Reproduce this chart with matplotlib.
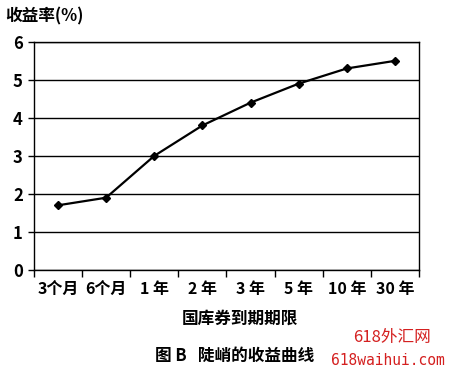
import matplotlib
matplotlib.use('Agg')
import matplotlib.pyplot as plt
import numpy as np

plt.rcParams['font.family'] = ['Noto Sans CJK SC', 'DejaVu Sans']

# 数据
categories = ['3个月', '6个月', '1 年', '2 年', '3 年', '5 年', '10 年', '30 年']
yields = [1.7, 1.9, 3.0, 3.8, 4.4, 4.9, 5.3, 5.5]
y_ticks = [0, 1, 2, 3, 4, 5, 6]

fig = plt.figure(figsize=(4.52, 3.77), dpi=100)
ax = fig.add_axes([0.075, 0.284, 0.852, 0.605])

x = np.arange(len(categories))
ax.plot(x, yields, color='black', linewidth=1.6, marker='D', markersize=4.5, zorder=3)

ax.set_xlim(-0.5, len(categories) - 0.5)
ax.set_ylim(0, 6)
ax.set_yticks(y_ticks)
ax.set_yticklabels([str(v) for v in y_ticks], fontsize=12, fontweight='bold')
ax.yaxis.grid(True, color='black', linewidth=1.0)
ax.set_axisbelow(True)

# x轴刻度在类别之间
ax.set_xticks(x)
ax.set_xticklabels(categories, fontsize=11.5, fontweight='bold')
ax.set_xticks(np.arange(len(categories) + 1) - 0.5, minor=True)
ax.tick_params(axis='x', which='major', length=0, pad=8)
ax.tick_params(axis='x', which='minor', length=5, width=1, direction='out', color='black')
ax.tick_params(axis='y', length=4, width=1, direction='out', pad=4)

for s in ['left', 'right', 'bottom', 'top']:
    ax.spines[s].set_color('black')
    ax.spines[s].set_linewidth(1.0)

fig.text(0.012, 0.957, '收益率(%)', fontsize=12, fontweight='bold', ha='left', va='center')
fig.text(0.53, 0.155, '国库券到期期限', fontsize=12, fontweight='bold', ha='center', va='center')
fig.text(0.52, 0.055, '图 B   陡峭的收益曲线', fontsize=12, fontweight='bold', ha='center', va='center')
fig.text(0.868, 0.105, '618外汇网', fontsize=12, color='#d42020', ha='center', va='center')
fig.text(0.985, 0.045, '618waihui.com', fontsize=10.5, color='#d42020', ha='right', va='center',
         family='DejaVu Sans Mono')

fig.savefig('out.png', dpi=100)
